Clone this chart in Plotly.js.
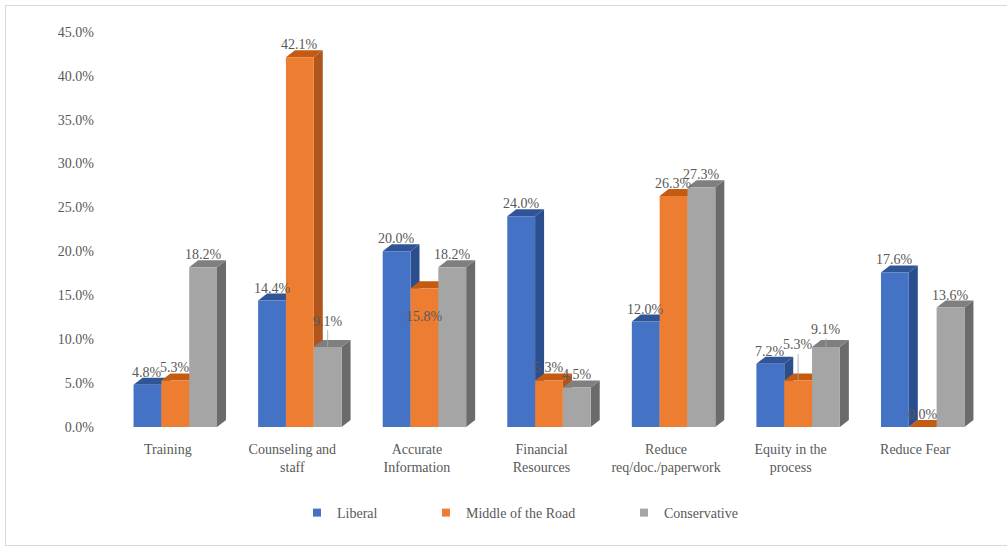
<!DOCTYPE html>
<html>
<head>
<meta charset="utf-8">
<script src="https://cdn.plot.ly/plotly-3.0.1.min.js"></script>
<style>
  html, body { margin: 0; padding: 0; background: #ffffff; overflow: hidden; }
  #wrap { position: relative; width: 1007px; height: 549px; }
  #chart { width: 1007px; height: 549px; }
  #frame { position: absolute; left: 5px; top: 5px; width: 1010px; height: 541px;
           border: 1px solid #d9d9d9; pointer-events: none; box-sizing: border-box; }
</style>
</head>
<body>
<div id="wrap">
  <div id="chart"></div>
  <div id="frame"></div>
</div>
<script>
// ---------------- data ----------------
const categories = [
  "Training",
  "Counseling and<br>staff",
  "Accurate<br>Information",
  "Financial<br>Resources",
  "Reduce<br>req/doc./paperwork",
  "Equity in the<br>process",
  "Reduce Fear"
];
const seriesNames = ["Liberal", "Middle of the Road", "Conservative"];
const liberal      = [4.8, 14.4, 20.0, 24.0, 12.0, 7.2, 17.6];
const middleRoad   = [5.3, 42.1, 15.8, 5.3, 26.3, 5.3, 0.0];
const conservative = [18.2, 9.1, 18.2, 4.5, 27.3, 9.1, 13.6];
const yTickValues  = [0, 5, 10, 15, 20, 25, 30, 35, 40, 45];
const yTickLabels  = yTickValues.map(v => v.toFixed(1) + "%");

// ---------------- styling / geometry ----------------
const W = 1007, H = 549;
const margin = { l: 113, r: 22, t: 23, b: 122 };
const yMax = 46;
const plotW = W - margin.l - margin.r;
const plotH = H - margin.t - margin.b;
const unitPx = plotW / categories.length;   // px per category unit
const yPx = plotH / yMax;                    // px per percent
const depthX = 9 / unitPx;                  // 3D depth in data units
const depthY = 7 / yPx;
const bargap = 0.33;
const barW = (1 - bargap) / 3;
const labelShift = 7.5 / unitPx;

const frontColors = ["#4472C4", "#ED7D31", "#A5A5A5"];
const topColors   = ["#2F5597", "#C55A11", "#7F7F7F"];
const sideColors  = ["#2B4F8E", "#B0561C", "#6B6B6B"];
const textColor = "#595959";
const fontFamily = "Times New Roman, Liberation Serif, DejaVu Serif, serif";

const allSeries = [liberal, middleRoad, conservative];
const idx = categories.map((_, i) => i);

const traces = allSeries.map((vals, s) => ({
  type: "bar",
  name: seriesNames[s],
  x: idx,
  y: vals,
  marker: { color: frontColors[s], line: { width: 0 } },
  showlegend: false,
  hoverinfo: "name+y"
}));
// legend entries (small square keys)
seriesNames.forEach((n, s) => {
  traces.push({
    type: "scatter", mode: "markers", name: n,
    x: [null], y: [null],
    marker: { symbol: "square", size: 8, color: frontColors[s] },
    legend: s === 0 ? "legend" : ("legend" + (s + 1)),
    showlegend: true
  });
});

// 3D faces (sides first, then tops), drawn below the bar fronts
const sides = [], tops = [];
allSeries.forEach((vals, s) => {
  vals.forEach((v, i) => {
    const c = i + (s - 1) * barW;
    const x0 = c - barW / 2, x1 = c + barW / 2;
    sides.push({
      type: "path", xref: "x", yref: "y", layer: "below",
      path: `M${x1},0 L${x1},${v} L${x1 + depthX},${v + depthY} L${x1 + depthX},${depthY} Z`,
      fillcolor: sideColors[s], line: { width: 0 }
    });
    tops.push({
      type: "path", xref: "x", yref: "y", layer: "below",
      path: `M${x0},${v} L${x1},${v} L${x1 + depthX},${v + depthY} L${x0 + depthX},${v + depthY} Z`,
      fillcolor: topColors[s], line: { width: 0 }
    });
  });
});

// data labels
const labelAdjust = {
  "2|1": { yshift: -28.6 },
  "5|1": { ay: -35.5 },
  "1|2": { ay: -26 },
  "5|2": { ay: -18 }
};
const annotations = [];
allSeries.forEach((vals, s) => {
  vals.forEach((v, i) => {
    const c = i + (s - 1) * barW;
    const adj = labelAdjust[i + "|" + s] || {};
    const a = {
      x: c, y: v, xref: "x", yref: "y",
      text: v.toFixed(1) + "%",
      font: { family: fontFamily, size: 14, color: textColor },
      xanchor: "center", yanchor: "middle"
    };
    if (adj.ay !== undefined) {
      a.showarrow = true; a.arrowhead = 0; a.arrowwidth = 0.8;
      a.arrowcolor = "#a6a6a6"; a.ax = 0; a.ay = adj.ay; a.standoff = 0;
    } else {
      a.showarrow = false;
      a.yshift = adj.yshift !== undefined ? adj.yshift : 12.5;
    }
    annotations.push(a);
  });
});

function legendAt(px) {
  return {
    x: (px - margin.l) / plotW, xanchor: "left",
    y: (H - margin.b - 513) / plotH, yanchor: "middle",
    orientation: "h", bgcolor: "rgba(0,0,0,0)",
    font: { family: fontFamily, size: 14, color: textColor },
    itemwidth: 30
  };
}

const layout = {
  width: W, height: H,
  margin: margin,
  font: { family: fontFamily, size: 14, color: textColor },
  paper_bgcolor: "#ffffff",
  plot_bgcolor: "rgba(0,0,0,0)",
  barmode: "group",
  bargap: bargap,
  bargroupgap: 0,
  showlegend: true,
  legend: legendAt(297),
  legend2: legendAt(426),
  legend3: legendAt(624),
  xaxis: {
    type: "linear",
    range: [-0.5, categories.length - 0.5],
    tickvals: idx.map(i => i - labelShift),
    ticktext: categories,
    showgrid: false, zeroline: false, showline: false, ticks: "",
    ticklabelstandoff: 12,
    tickfont: { family: fontFamily, size: 14, color: textColor },
    fixedrange: true
  },
  yaxis: {
    range: [0, yMax],
    tickvals: yTickValues,
    ticktext: yTickLabels,
    showgrid: false, zeroline: false, showline: false, ticks: "",
    ticklabelstandoff: 18,
    tickfont: { family: fontFamily, size: 14, color: textColor },
    fixedrange: true
  },
  shapes: sides.concat(tops),
  annotations: annotations
};

Plotly.newPlot("chart", traces, layout, { displayModeBar: false, staticPlot: true });
</script>
</body>
</html>
